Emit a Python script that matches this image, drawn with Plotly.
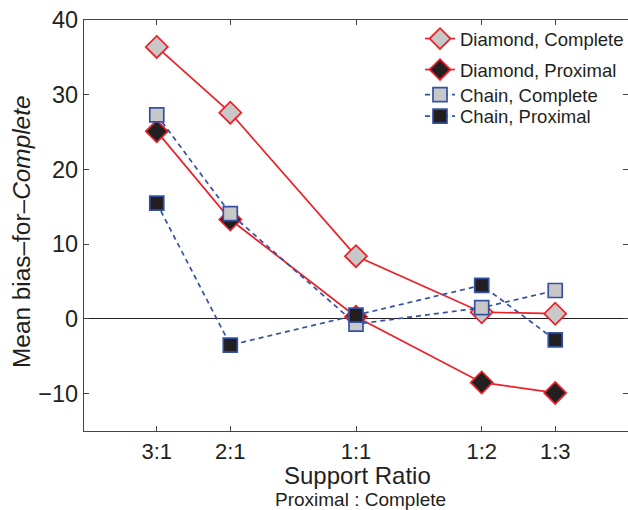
import plotly.graph_objects as go

# Support ratios (Proximal : Complete)
tick_labels = ["3:1", "2:1", "1:1", "1:2", "1:3"]
proximal_support = [3, 2, 1, 1, 1]
complete_support = [1, 1, 1, 2, 3]
ratio = [p / c for p, c in zip(proximal_support, complete_support)]

series_names = ["Diamond, Complete", "Diamond, Proximal", "Chain, Complete", "Chain, Proximal"]
diamond_complete = [36.4, 27.6, 8.4, 0.9, 0.7]
diamond_proximal = [25.1, 13.3, 0.3, -8.5, -9.9]
chain_complete = [27.3, 14.1, -0.7, 1.5, 3.8]
chain_proximal = [15.5, -3.5, 0.5, 4.5, -2.8]

RED = "#ee1f26"
BLUE = "#3451a3"
GRAY = "#c8c8c8"
BLACK = "#231f20"
FONT = "Liberation Sans, Arial, Helvetica, sans-serif"

# plot box in pixels
L, T, B, W, H = 84, 20, 79, 628, 510
PW, PH = W - L, H - T - B

def px_x(px):
    return (px - L) / PW

def px_y(py):
    return (H - B - py) / PH

fig = go.Figure()

def add(name, y, color, fill, symbol, size, dash, legend):
    fig.add_trace(go.Scatter(
        x=ratio, y=y, name=name, mode="lines+markers", legend=legend,
        line=dict(color=color, width=1.7, dash=dash),
        marker=dict(symbol=symbol, size=size, color=fill,
                    line=dict(color=color, width=1.7)),
    ))

add(series_names[0], diamond_complete, RED, GRAY, "diamond", 17, "solid", "legend")
add(series_names[1], diamond_proximal, RED, BLACK, "diamond", 17, "solid", "legend2")
add(series_names[2], chain_complete, BLUE, GRAY, "square", 14, "5px,4px", "legend3")
add(series_names[3], chain_proximal, BLUE, BLACK, "square", 14, "5px,4px", "legend4")

def leg(ypx):
    return dict(x=px_x(420), y=px_y(ypx), xanchor="left", yanchor="middle",
                bgcolor="rgba(0,0,0,0)", font=dict(size=18.5, color=BLACK),
                itemwidth=30)

fig.update_layout(
    width=W, height=H,
    margin=dict(l=L, r=0, t=T, b=B, autoexpand=False),
    paper_bgcolor="white", plot_bgcolor="white",
    font=dict(family=FONT, color=BLACK, size=20),
    legend=leg(39), legend2=leg(70), legend3=leg(95), legend4=leg(116.5),
    showlegend=True,
)

fig.update_xaxes(
    type="log", range=[0.6514, -0.6514],
    tickvals=ratio, ticktext=tick_labels,
    ticks="inside", ticklen=5, tickcolor="#444", tickwidth=1,
    showline=True, linecolor="#444", linewidth=1.2, mirror="ticks",
    showgrid=False, zeroline=False, automargin=False,
    tickfont=dict(size=22),
)
fig.update_yaxes(
    range=[-15, 40], tickvals=[-10, 0, 10, 20, 30, 40],
    ticktext=["\u221210", "0", "10", "20", "30", "40"],
    ticks="inside", ticklen=5, tickcolor="#444", tickwidth=1,
    showline=True, linecolor="#444", linewidth=1.2, mirror="ticks",
    showgrid=False, zeroline=True, zerolinecolor=BLACK, zerolinewidth=1,
    automargin=False,
    tickfont=dict(size=23.5),
)

fig.add_annotation(
    text="Mean bias\u2013for\u2013<i>Complete</i>", textangle=-90,
    xref="paper", yref="paper", x=px_x(21), y=px_y(232),
    xanchor="center", yanchor="middle", showarrow=False,
    font=dict(size=24.4, color=BLACK),
)
fig.add_annotation(
    text="Support Ratio", xref="paper", yref="paper",
    x=px_x(357.5), y=px_y(475), xanchor="center", yanchor="middle",
    showarrow=False, font=dict(size=24, color=BLACK),
)
fig.add_annotation(
    text="Proximal : Complete", xref="paper", yref="paper",
    x=px_x(360), y=px_y(499), xanchor="center", yanchor="middle",
    showarrow=False, font=dict(size=19, color=BLACK),
)

fig.write_html(
    "out.html",
    config={"displayModeBar": False},
    post_script="document.body.style.margin='0';document.body.style.overflow='hidden';",
)
